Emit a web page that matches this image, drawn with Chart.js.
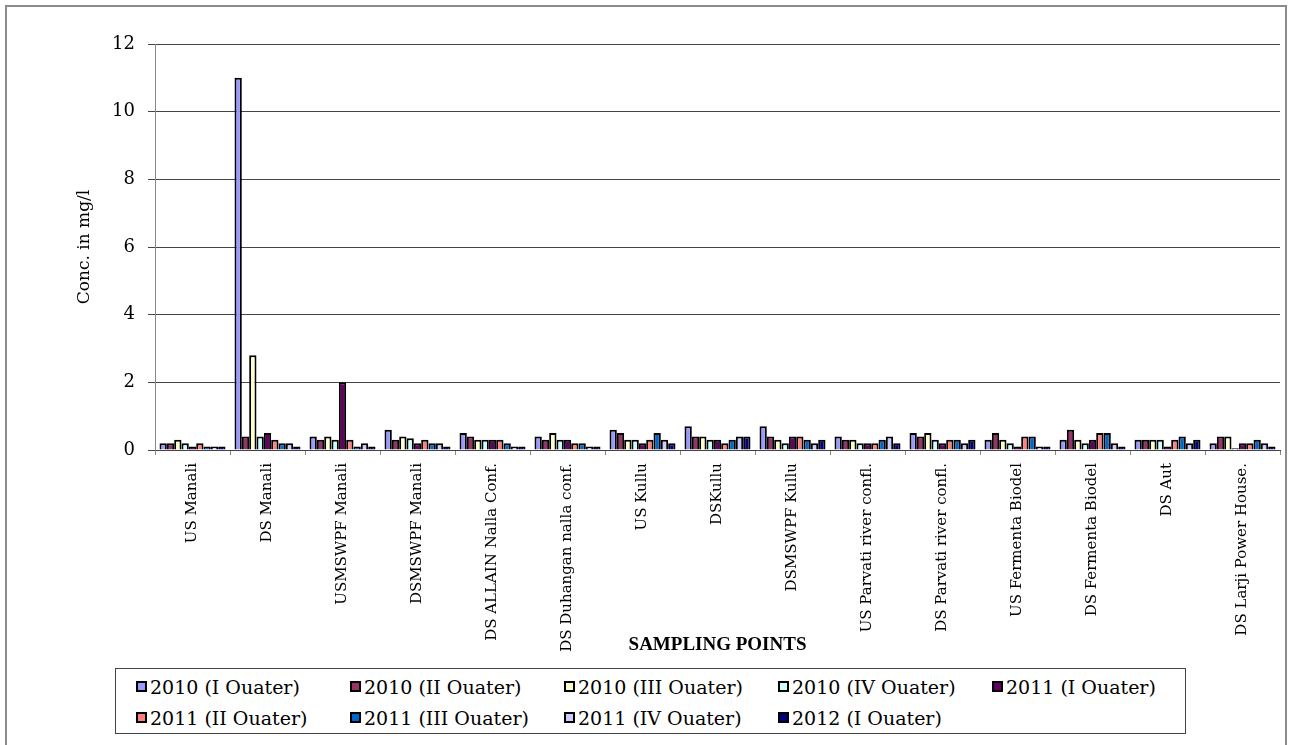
<!DOCTYPE html>
<html>
<head>
<meta charset="utf-8">
<script src="https://cdn.jsdelivr.net/npm/chart.js@4.4.1/dist/chart.umd.min.js"></script>
<style>
  body { margin: 0; background: #fff; }
  #wrap { position: relative; width: 1293px; height: 745px; overflow: hidden; }
  #frame { position: absolute; left: 5px; top: 5px; width: 1282px; height: 800px; border: 2px solid #8c8c8c; box-sizing: border-box; }
  #chart { position: absolute; left: 0; top: 0; }
  #legend {
    position: absolute; left: 115px; top: 668px; width: 1071px; height: 66px;
    border: 1px solid #444; box-sizing: border-box; background: #fff;
    display: grid; grid-template-columns: repeat(5, 214px); grid-auto-rows: 31px;
    padding: 2px 0 0 20px;
    font-family: 'DejaVu Serif', serif; font-size: 19px; color: #000;
  }
  #legend .item { display: flex; align-items: center; white-space: nowrap; }
  #legend .box { width: 7px; height: 7px; border: 2px solid #000; margin-right: 3px; }
</style>
</head>
<body>
<div id="wrap">
  <div id="frame"></div>
  <canvas id="chart" width="1293" height="745"></canvas>
  <div id="legend"></div>
</div>
<script>
// Точки отбора проб
const categories = [
    'US Manali', 'DS Manali', 'USMSWPF Manali', 'DSMSWPF Manali', 'DS ALLAIN Nalla Conf.',
    'DS Duhangan nalla conf.', 'US Kullu', 'DSKullu', 'DSMSWPF Kullu', 'US Parvati river confl.',
    'DS Parvati river confl.', 'US Fermenta Biodel', 'DS Fermenta Biodel', 'DS Aut', 'DS Larji Power House.'
];

const seriesLabels = [
    '2010 (I Ouater)', '2010 (II Ouater)', '2010 (III Ouater)', '2010 (IV Ouater)', '2011 (I Ouater)',
    '2011 (II Ouater)', '2011 (III Ouater)', '2011 (IV Ouater)', '2012 (I Ouater)'
];
const seriesColors = ['#9999FF', '#993366', '#FFFFCC', '#CCFFFF', '#660066', '#FF8080', '#0066CC', '#CCCCFF', '#000080'];

// Значения по кварталам
const q2010_1 = [0.2, 11, 0.4, 0.6, 0.5, 0.4, 0.6, 0.7, 0.7, 0.4, 0.5, 0.3, 0.3, 0.3, 0.2];
const q2010_2 = [0.2, 0.4, 0.3, 0.3, 0.4, 0.3, 0.5, 0.4, 0.4, 0.3, 0.4, 0.5, 0.6, 0.3, 0.4];
const q2010_3 = [0.3, 2.8, 0.4, 0.4, 0.3, 0.5, 0.3, 0.4, 0.3, 0.3, 0.5, 0.3, 0.3, 0.3, 0.4];
const q2010_4 = [0.2, 0.4, 0.3, 0.35, 0.3, 0.3, 0.3, 0.3, 0.2, 0.2, 0.3, 0.2, 0.2, 0.3, 0.05];
const q2011_1 = [0.1, 0.5, 2.0, 0.2, 0.3, 0.3, 0.2, 0.3, 0.4, 0.2, 0.2, 0.1, 0.3, 0.1, 0.2];
const q2011_2 = [0.2, 0.3, 0.3, 0.3, 0.3, 0.2, 0.3, 0.2, 0.4, 0.2, 0.3, 0.4, 0.5, 0.3, 0.2];
const q2011_3 = [0.1, 0.2, 0.1, 0.2, 0.2, 0.2, 0.5, 0.3, 0.3, 0.3, 0.3, 0.4, 0.5, 0.4, 0.3];
const q2011_4 = [0.1, 0.2, 0.2, 0.2, 0.1, 0.1, 0.3, 0.4, 0.2, 0.4, 0.2, 0.1, 0.2, 0.2, 0.2];
const q2012_1 = [0.1, 0.1, 0.1, 0.1, 0.1, 0.1, 0.2, 0.4, 0.3, 0.2, 0.3, 0.1, 0.1, 0.3, 0.1];

const yTicks = [0, 2, 4, 6, 8, 10, 12];

const seriesValues = [q2010_1, q2010_2, q2010_3, q2010_4, q2011_1, q2011_2, q2011_3, q2011_4, q2012_1];

const serif = 'DejaVu Serif';

const ctx = document.getElementById('chart').getContext('2d');
new Chart(ctx, {
    type: 'bar',
    data: {
        labels: categories,
        datasets: seriesValues.map((vals, i) => ({
            label: seriesLabels[i],
            data: vals,
            backgroundColor: seriesColors[i],
            borderColor: '#000',
            borderWidth: 2,
            borderSkipped: 'bottom',
            categoryPercentage: 0.88,
            barPercentage: 1.0
        }))
    },
    options: {
        responsive: false,
        animation: false,
        layout: { padding: { left: 0, top: 44, right: 13, bottom: 89 } },
        plugins: {
            legend: { display: false },
            tooltip: { enabled: false }
        },
        scales: {
            x: {
                ticks: {
                    autoSkip: false, minRotation: 90, maxRotation: 90, padding: 8,
                    color: '#000', font: { family: serif, size: 15 }
                },
                grid: { drawOnChartArea: false, tickLength: 5, color: '#888', offset: true },
                border: { color: '#444' },
                title: {
                    display: true, text: 'SAMPLING POINTS', color: '#000',
                    font: { family: 'Liberation Serif', size: 19, weight: 'bold' },
                    padding: { top: 0, bottom: 0 }
                },
                afterFit: s => { s.height = 206; }
            },
            y: {
                min: yTicks[0],
                max: yTicks[yTicks.length - 1],
                ticks: {
                    stepSize: yTicks[1] - yTicks[0], padding: 13,
                    color: '#000', font: { family: serif, size: 18 }
                },
                grid: { color: '#444', tickLength: 7 },
                border: { color: '#888' },
                title: {
                    display: true, text: 'Conc. in mg/l', color: '#000',
                    font: { family: serif, size: 17 },
                    padding: { top: 74, bottom: 0 }
                },
                afterFit: s => { s.width = 155; }
            }
        }
    }
});

// Легенда в рамке
const legend = document.getElementById('legend');
seriesLabels.forEach((lbl, i) => {
    const item = document.createElement('div');
    item.className = 'item';
    const box = document.createElement('span');
    box.className = 'box';
    box.style.background = seriesColors[i];
    item.appendChild(box);
    item.appendChild(document.createTextNode(lbl));
    legend.appendChild(item);
});
</script>
</body>
</html>
